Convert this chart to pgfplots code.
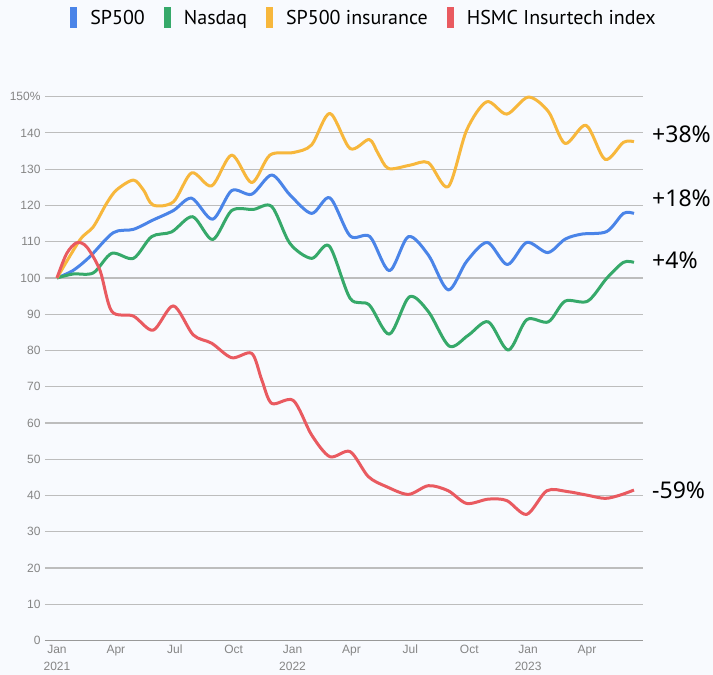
\documentclass[border=0pt]{standalone}
\usepackage{pgfplots}
\pgfplotsset{compat=1.18}
\usepackage{pgfplotstable}
\usepackage{fontspec}
\setmainfont{Noto Sans}
\newfontfamily\legfont{PT Sans}
\newfontfamily\tickfont{Liberation Sans}
\definecolor{bgc}{HTML}{F8FAFE}
\definecolor{cblue}{HTML}{4A84E8}
\definecolor{cgreen}{HTML}{36A96A}
\definecolor{corange}{HTML}{F7B73C}
\definecolor{cred}{HTML}{E95A60}
\definecolor{gridc}{HTML}{BDBDBD}
\definecolor{tickc}{HTML}{858585}

\pgfplotstableread{
m v
0 100
1.17 110.5
1.85 114.1
2.53 120.6
3.04 124.3
3.89 127.0
4.4 124.3
4.9 120.1
5.93 121.0
6.86 129.0
7.88 125.4
8.9 133.9
9.92 126.3
10.85 133.9
12.04 134.6
12.97 136.7
13.9 145.4
14.93 135.7
15.9 138.2
16.35 134.4
16.88 130.2
17.98 131.1
18.92 131.8
19.93 125.2
20.87 140.8
21.89 148.6
22.91 145.2
24.01 149.9
25.03 145.9
25.88 137.1
26.95 142.1
27.92 132.7
28.85 137.4
29.39 137.6
}\orange

\pgfplotstableread{
m v
0 100
0.83 102.1
1.68 105.9
2.87 112.5
3.89 113.4
4.9 116.0
5.93 118.6
6.86 122.0
7.93 116.2
8.9 124.1
9.92 123.1
10.94 128.4
11.87 122.9
12.97 117.8
13.9 122.1
14.93 111.6
15.94 111.4
16.93 102.0
17.9 111.4
18.92 106.3
19.93 96.7
20.87 104.6
21.92 109.8
22.94 103.7
23.93 109.8
25.0 107.0
25.88 110.7
26.73 112.1
28.0 112.8
28.85 117.8
29.39 117.8
}\blue

\pgfplotstableread{
m v
0 100
0.83 101.1
1.85 101.4
2.79 106.8
3.89 105.4
4.82 111.4
5.84 112.7
6.91 116.9
7.93 110.6
8.9 118.6
10.0 118.9
10.94 119.7
11.87 109.5
12.97 105.4
13.87 108.8
14.93 94.4
15.9 92.6
16.93 84.5
17.95 94.8
18.92 90.7
19.98 81.2
20.95 84.2
21.97 87.9
22.99 80.1
23.93 88.5
25.03 87.9
25.88 93.6
27.03 93.6
28.0 99.9
28.85 104.3
29.39 104.3
}\green

\pgfplotstableread{
m v
0 100
0.49 106.7
1.0 109.7
1.51 108.6
2.19 102.1
2.79 90.8
3.89 89.5
4.9 85.6
5.93 92.3
6.94 84.3
7.88 82.0
8.9 78.0
9.92 79.2
10.43 71.9
10.94 65.4
12.04 66.2
12.97 56.7
13.9 50.7
14.93 52.1
15.86 45.2
16.8 42.4
17.9 40.3
18.92 42.7
19.93 41.3
20.87 37.8
21.97 39.0
22.91 38.6
23.93 34.8
24.95 41.3
25.97 41.1
26.99 40.1
27.92 39.2
28.68 40.1
29.39 41.5
}\red

\begin{document}
\begin{tikzpicture}[x=1pt,y=1pt]
\fill[bgc] (0,0) rectangle (713,675);
\useasboundingbox (0,0) rectangle (713,675);
\begin{axis}[
  at={(45pt,34.5pt)}, anchor=south west,
  scale only axis, width=598pt, height=543.8pt,
  xmin=-0.61, xmax=29.85, ymin=0, ymax=150,
  clip=false,
  axis x line*=bottom, axis y line*=left,
  x axis line style={draw=gray!80, line width=1.8pt, -},
  y axis line style={draw=none},
  major tick style={draw=none},
  ymajorgrids, grid style={gridc, line width=1.1pt},
  ytick={0,10,...,150},
  yticklabels={0,10,20,30,40,50,60,70,80,90,100,110,120,130,140,150\%},
  xtick={0,3,...,27},
  xticklabels={{Jan\\2021},Apr,Jul,Oct,{Jan\\2022},Apr,Jul,Oct,{Jan\\2023},Apr},
  xticklabel style={align=center, font=\tickfont\fontsize{12}{17.5}\selectfont, text=tickc, yshift=-1pt},
  yticklabel style={font=\tickfont\fontsize{12}{14}\selectfont, text=tickc, xshift=-1pt},
  legend columns=4,
  legend style={at={(0.5335,1.1448)}, anchor=center, draw=none, fill=none,
    font=\legfont\fontsize{20}{24}\selectfont,
    /tikz/every even column/.append style={column sep=17pt},
    /tikz/every odd column/.append style={column sep=11pt}},
  legend image code/.code={\fill[#1, draw=none] (0pt,-10.5pt) rectangle (7pt,10.5pt);},
  every axis plot/.append style={line width=3pt, smooth, tension=0.5, line join=round},
]
\addplot[color=cblue] table[x=m,y=v] {\blue};
\addlegendentry{SP500}
\addplot[color=cgreen] table[x=m,y=v] {\green};
\addlegendentry{Nasdaq}
\addplot[color=corange] table[x=m,y=v] {\orange};
\addlegendentry{SP500 insurance}
\addplot[color=cred] table[x=m,y=v] {\red};
\addlegendentry{HSMC Insurtech index}
\node[anchor=west, font=\fontsize{23}{26}\selectfont, inner sep=0pt] at (axis cs:30.31,139.6) {+38\%};
\node[anchor=west, font=\fontsize{23}{26}\selectfont, inner sep=0pt] at (axis cs:30.31,122.0) {+18\%};
\node[anchor=west, font=\fontsize{23}{26}\selectfont, inner sep=0pt] at (axis cs:30.31,105.0) {+4\%};
\node[anchor=west, font=\fontsize{23}{26}\selectfont, inner sep=0pt] at (axis cs:30.31,41.5) {-59\%};
\end{axis}
\end{tikzpicture}
\end{document}
